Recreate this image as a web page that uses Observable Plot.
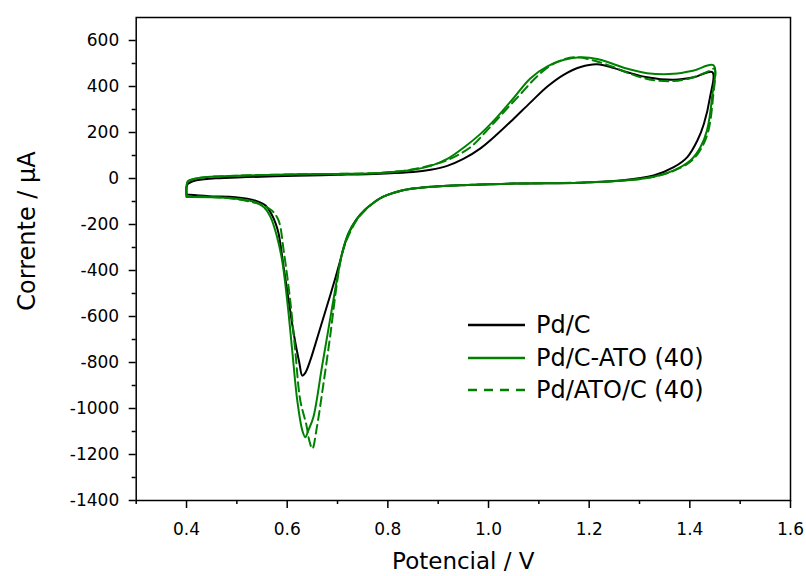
<!DOCTYPE html>
<html><head><meta charset="utf-8">
<script src="https://cdn.jsdelivr.net/npm/d3@7"></script>
<script src="https://cdn.jsdelivr.net/npm/@observablehq/plot@0.6"></script>
<style>
body{margin:0;background:#fff;}
#wrap{position:relative;width:806px;height:576px;font-family:"DejaVu Sans",sans-serif;}
#legend{position:absolute;left:468px;top:309px;}
.item{display:flex;align-items:center;height:32.5px;font-size:24px;color:#000;white-space:nowrap;}
.item svg{margin-right:11px;}
</style></head><body><div id="wrap"><div id="legend"></div></div>
<script>
// Pd/C (black)
const pdcV = [0.400,0.400,0.402,0.410,0.420,0.458,0.520,0.617,0.700,0.785,0.850,0.885,0.918,0.950,0.984,1.017,1.050,1.083,1.117,1.150,1.183,1.216,1.249,1.276,1.315,1.368,1.408,1.445,
  1.440,1.428,1.415,1.395,1.368,1.328,1.262,1.183,1.050,0.918,0.865,0.832,0.792,0.775,0.755,0.737,0.722,0.713,0.705,0.696,0.686,0.676,0.666,0.656,0.646,0.636,0.630,0.624,0.613,0.603,0.593,0.583,0.577,0.570,0.557,0.537,0.497,0.444,0.400];
const pdcI = [-70,-40,-25,-14,-8,1,6,12,16,21,28,38,55,85,131,192,260,330,400,452,485,497,480,462,440,429,440,462,
  353,238,165,93,49,13,-9,-18,-22,-32,-40,-50,-78,-100,-135,-180,-240,-295,-360,-430,-504,-576,-648,-720,-790,-845,-857,-800,-675,-530,-386,-240,-195,-160,-117,-96,-81,-77,-70];
// Pd/C-ATO (40) (green solid)
const pcaV = [0.400,0.400,0.403,0.415,0.440,0.500,0.617,0.700,0.785,0.850,0.885,0.920,0.951,0.984,1.017,1.050,1.083,1.117,1.150,1.183,1.216,1.249,1.276,1.315,1.368,1.408,1.447,
  1.444,1.434,1.421,1.401,1.368,1.328,1.262,1.183,1.050,0.918,0.865,0.832,0.792,0.775,0.755,0.737,0.722,0.712,0.703,0.686,0.669,0.652,0.642,0.636,0.630,0.620,0.610,0.600,0.590,0.580,0.567,0.554,0.537,0.477,0.400];
const pcaI = [-80,-30,-12,-2,6,12,18,20,24,38,55,88,135,194,267,350,435,487,516,527,520,497,477,458,455,470,492,
  351,209,136,78,35,8,-10,-18,-22,-32,-40,-50,-78,-100,-135,-180,-235,-300,-390,-603,-820,-1038,-1095,-1125,-1095,-965,-748,-530,-357,-255,-168,-125,-103,-84,-80];
// Pd/ATO/C (40) (green dashed)
const patV = [0.400,0.400,0.403,0.415,0.440,0.500,0.617,0.700,0.785,0.850,0.918,0.964,0.997,1.030,1.064,1.097,1.130,1.170,1.209,1.249,1.276,1.315,1.361,1.401,1.441,1.449,
  1.446,1.437,1.424,1.404,1.370,1.330,1.262,1.183,1.050,0.918,0.865,0.832,0.792,0.775,0.755,0.740,0.727,0.715,0.706,0.696,0.686,0.672,0.659,0.650,0.644,0.638,0.626,0.616,0.606,0.593,0.583,0.570,0.550,0.500,0.450,0.400];
const patI = [-78,-30,-12,-2,6,12,18,20,25,40,80,136,209,288,368,445,500,527,513,484,460,433,423,436,470,478,
  351,209,136,78,35,8,-10,-18,-22,-32,-40,-50,-78,-100,-138,-175,-225,-285,-357,-501,-675,-893,-1081,-1175,-1140,-1070,-965,-748,-530,-313,-183,-140,-115,-90,-80,-78];

const seriesNames = ["Pd/C", "Pd/C-ATO (40)", "Pd/ATO/C (40)"];
const seriesColors = ["#000000", "#008000", "#008000"];
const seriesDash = [null, null, "9,5"];

const xMajor = [0.4,0.6,0.8,1.0,1.2,1.4,1.6];
const xMinor = [0.3,0.5,0.7,0.9,1.1,1.3,1.5];
const yMajor = [-1400,-1200,-1000,-800,-600,-400,-200,0,200,400,600];
const yMinor = [-1300,-1100,-900,-700,-500,-300,-100,100,300,500];

const toRows = (V, I) => V.map((v, k) => ({v, i: I[k]}));
const data = [toRows(pdcV, pdcI), toRows(pcaV, pcaI), toRows(patV, patI)];

const lineMarks = data.map((d, s) => Plot.line(d, {
  x: "v", y: "i", stroke: seriesColors[s], strokeWidth: 2,
  strokeDasharray: seriesDash[s] || undefined, curve: "catmull-rom"
}));

const chart = Plot.plot({
  width: 806, height: 576,
  marginLeft: 135.7, marginRight: 16, marginTop: 17, marginBottom: 76,
  x: {domain: [0.3, 1.6]},
  y: {domain: [-1400, 700]},
  style: {fontFamily: "DejaVu Sans, sans-serif", fontSize: "17px", color: "#000", background: "#fff"},
  marks: [
    ...lineMarks,
    Plot.axisX(xMajor, {tickSize: 8, tickPadding: 14, tickFormat: d => d.toFixed(1), label: null, strokeWidth: 1.5}),
    Plot.axisX(xMinor, {tickSize: 4, tickFormat: () => "", label: null, strokeWidth: 1.5}),
    Plot.axisY(yMajor, {tickSize: 7, tickPadding: 10, tickFormat: d => String(d), label: null, strokeWidth: 1.5}),
    Plot.axisY(yMinor, {tickSize: 4, tickFormat: () => "", label: null, strokeWidth: 1.5}),
    Plot.frame({stroke: "#000", strokeWidth: 1.5}),
    Plot.text(["Potencial / V"], {frameAnchor: "bottom", dy: 61, lineAnchor: "middle", textAnchor: "middle", fontSize: 23, text: d => d}),
    Plot.text(["Corrente / µA"], {frameAnchor: "left", dx: -109, dy: -28, rotate: -90, lineAnchor: "middle", textAnchor: "middle", fontSize: 24, text: d => d})
  ]
});
document.getElementById("wrap").prepend(chart);

const legend = document.getElementById("legend");
seriesNames.forEach((name, s) => {
  const item = document.createElement("div");
  item.className = "item";
  const dash = seriesDash[s] ? `stroke-dasharray="9,7"` : "";
  item.innerHTML = `<svg width="57" height="10"><line x1="0" y1="5" x2="57" y2="5" stroke="${seriesColors[s]}" stroke-width="2.5" ${dash}/></svg><span>${name}</span>`;
  legend.appendChild(item);
});
</script>
</body></html>
